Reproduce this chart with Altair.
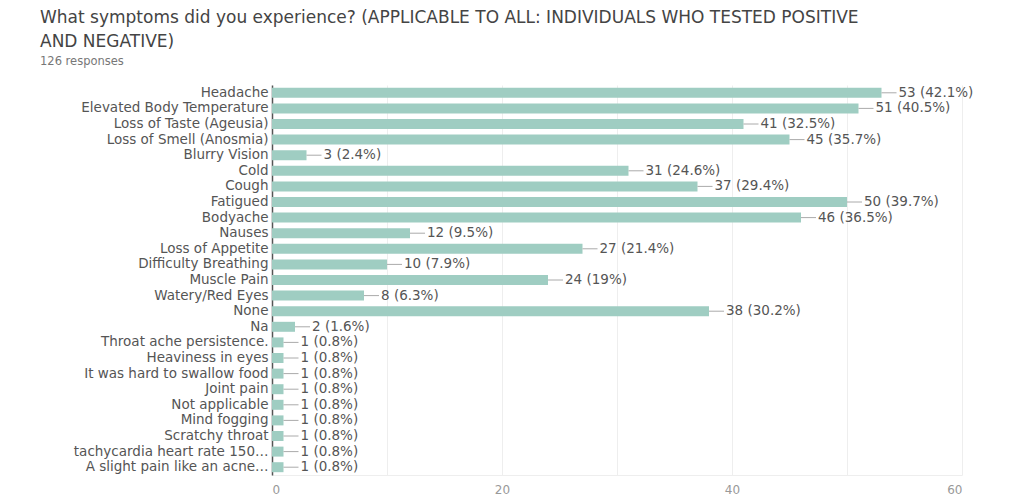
import altair as alt
import pandas as pd

# Survey answers (multiple choice, 126 respondents)
symptoms = [
    "Headache",
    "Elevated Body Temperature",
    "Loss of Taste (Ageusia)",
    "Loss of Smell (Anosmia)",
    "Blurry Vision",
    "Cold",
    "Cough",
    "Fatigued",
    "Bodyache",
    "Nauses",
    "Loss of Appetite",
    "Difficulty Breathing",
    "Muscle Pain",
    "Watery/Red Eyes",
    "None",
    "Na",
    "Throat ache persistence.",
    "Heaviness in eyes",
    "It was hard to swallow food",
    "Joint pain",
    "Not applicable",
    "Mind fogging",
    "Scratchy throat",
    "tachycardia heart rate 150…",
    "A slight pain like an acne…",
]
counts = [53, 51, 41, 45, 3, 31, 37, 50, 46, 12, 27, 10, 24, 8, 38, 2,
          1, 1, 1, 1, 1, 1, 1, 1, 1]
total_responses = 126
x_ticks = [0, 10, 20, 30, 40, 50, 60]


def pct_text(n, total):
    s = f"{round(100 * n / total, 1):.1f}"
    if s.endswith(".0"):
        s = s[:-2]
    return s


df = pd.DataFrame({"symptom": symptoms, "count": counts})
df["label"] = [f"{c} ({pct_text(c, total_responses)}%)" for c in counts]

FONT = "DejaVu Sans"
BAR = "#9fcdc2"

y_enc = alt.Y(
    "symptom:N",
    sort=symptoms,
    scale=alt.Scale(paddingInner=0.36, paddingOuter=0.18),
    axis=alt.Axis(
        title=None,
        ticks=False,
        grid=False,
        domainColor="#555555",
        domainWidth=1.5,
        labelColor="#555555",
        labelFont=FONT,
        labelFontSize=13.5,
        labelPadding=4,
        labelLimit=0,
    ),
)

x_enc = alt.X(
    "count:Q",
    scale=alt.Scale(domain=[0, 60], nice=False),
    axis=alt.Axis(
        title=None,
        values=x_ticks,
        labelExpr="datum.value % 20 == 0 ? datum.label : ''",
        ticks=False,
        grid=True,
        gridColor="#eeeeee",
        domainColor="#eeeeee",
        labelColor="#999999",
        labelFont=FONT,
        labelFontSize=12,
        labelPadding=9,
    ),
)

bars = alt.Chart(df).mark_bar(color=BAR).encode(y=y_enc, x=x_enc)

connectors = alt.Chart(df).mark_rule(color="#aaaaaa", strokeWidth=1, x2Offset=15).encode(
    y=alt.Y("symptom:N", sort=symptoms),
    x="count:Q",
    x2="count:Q",
)

labels = alt.Chart(df).mark_text(
    align="left", baseline="middle", dx=17, font=FONT, fontSize=13.5, color="#555555"
).encode(
    y=alt.Y("symptom:N", sort=symptoms),
    x="count:Q",
    text="label:N",
)

chart = (
    alt.layer(bars, connectors, labels)
    .properties(
        width=690,
        height=390,
        autosize=alt.AutoSizeParams(type="none"),
        padding={"left": 272, "top": 85, "right": 71, "bottom": 22},
        title=alt.TitleParams(
            text=[
                "What symptoms did you experience? (APPLICABLE TO ALL: INDIVIDUALS WHO TESTED POSITIVE",
                "AND NEGATIVE)",
            ],
            subtitle="126 responses",
            anchor="start",
            frame="group",
            dx=-232,
            offset=17,
            font=FONT,
            fontSize=17,
            fontWeight="normal",
            color="#444444",
            lineHeight=24,
            subtitleFont=FONT,
            subtitleFontSize=11.5,
            subtitleColor="#777777",
            subtitlePadding=5,
        ),
    )
    .configure_view(stroke=None)
)

chart.save("out.html", embed_options={"renderer": "svg", "actions": False})
